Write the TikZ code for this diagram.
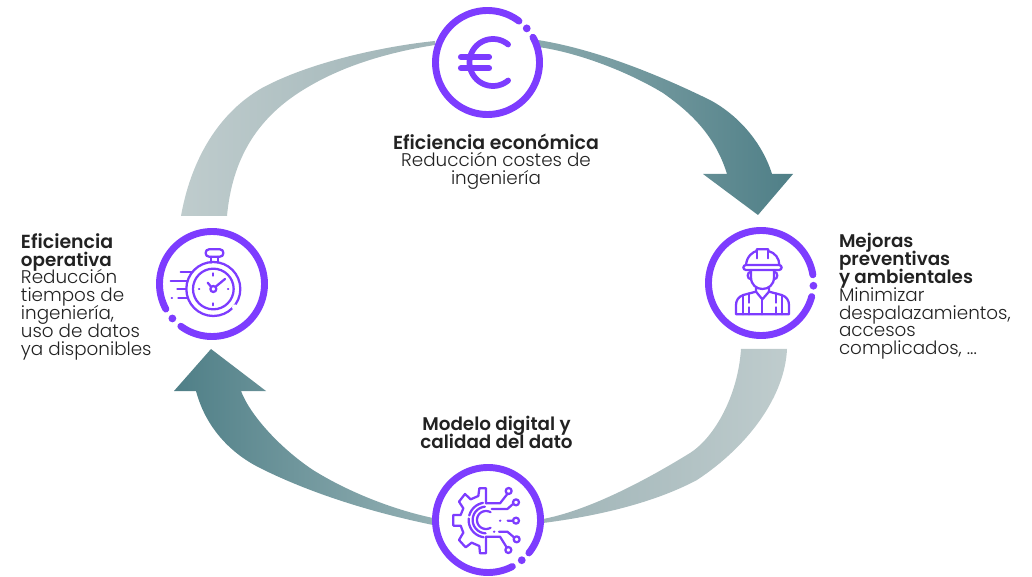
\documentclass[tikz,border=0pt]{standalone}
\usepackage{fontspec}
\setmainfont{Poppins}[UprightFont=* Light,BoldFont=* SemiBold]
\definecolor{purp}{HTML}{7D3CFF}
\definecolor{txt}{HTML}{222222}
\definecolor{tealD}{HTML}{4F7F87}
\definecolor{tealL}{HTML}{8AA9AD}
\definecolor{greyD}{HTML}{9FB4B7}
\definecolor{greyL}{HTML}{BFCCCD}
\newcommand{\ringarc}[5]{\draw[ringline] plot[domain=#4:#5,samples=120] ({#1+#3*cos(\x)},{#2-#3*sin(\x)});}
\newcommand{\ringdot}[4]{\fill[purp] ({#1+#3*cos(#4)},{#2-#3*sin(#4)}) circle[radius=3.9];}
\newcommand{\icarc}[5]{\draw[iconline] plot[domain=#4:#5,samples=30] ({#1+#3*cos(\x)},{#2-#3*sin(\x)});}
\newcommand{\lab}[1]{{\bfseries #1}}
\newcommand{\labE}[1]{{\fontsize{14.2}{13.35}\selectfont\bfseries #1}}
\tikzset{
  ringline/.style={purp,line width=5.2pt,line cap=round},
  iconline/.style={purp,line width=1.7pt,line cap=round,line join=round},
  label/.style={inner sep=0pt,outer sep=0pt,text=txt,font=\fontsize{13.75}{13.35}\selectfont,execute at begin node={\setlength{\lineskiplimit}{-20pt}}},
}
\begin{document}
\begin{tikzpicture}[x=0.75pt,y=-0.75pt]
\useasboundingbox (0,0) rectangle (1032,577);
% block arrows
\shade[left color=tealL,right color=tealD]
  (538,40) .. controls (600,50) and (665,78) .. (710,100) .. controls (738,115) and (762,142) .. (772,174)
  -- (793,174) -- (758,215) -- (703,174) -- (727,174)
  .. controls (715,135) and (690,112) .. (663,93) .. controls (625,70) and (575,52) .. (538,47) -- cycle;
\shade[left color=tealD,right color=tealL!92!white]
  (433,525) .. controls (370,512) and (310,493) .. (260,468) .. controls (228,452) and (205,425) .. (196,391)
  -- (174,391) -- (211,349) -- (266,391) -- (241,391)
  .. controls (250,415) and (280,448) .. (313,470) .. controls (350,493) and (395,510) .. (433,518) -- cycle;
\shade[left color=greyL,right color=greyD]
  (181,216) .. controls (190,165) and (215,115) .. (262,88) .. controls (310,62) and (385,46) .. (435,41)
  -- (435,45) .. controls (390,52) and (345,65) .. (308,87) .. controls (265,112) and (233,150) .. (227,216) -- cycle;
\shade[left color=greyD,right color=greyL]
  (787,349) .. controls (785,395) and (750,445) .. (697,480) .. controls (650,505) and (590,517) .. (543,523)
  -- (543,519) .. controls (580,512) and (630,490) .. (690,453) .. controls (715,437) and (738,395) .. (741,349) -- cycle;
% rings
\ringarc{487.5}{62.5}{52}{29}{-307.2}
\ringdot{487.5}{62.5}{52}{41}
\ringarc{761}{283}{52.5}{9}{345}
\ringdot{761}{283}{52.5}{-3}
\ringarc{212}{284}{52.5}{208.5}{-126.4}
\ringdot{212}{284}{52.5}{221}
\ringarc{488}{520}{52.5}{-38.8}{297.6}
\ringdot{488}{520}{52.5}{-50}
% euro
\draw[purp,line width=4.3pt,line cap=round] plot[domain=50:310,samples=50] ({493+23.5*cos(\x)},{62.5-23.5*sin(\x)});
\draw[purp,line width=4.6pt,line cap=round] (461,57) -- (489,57) (461,68.3) -- (489,68.3);
% worker
\begin{scope}[shift={(690,220)},scale=1/3]
\draw[iconline] (168,135) .. controls (170,108) and (190,95) .. (200,93) -- (200,88) -- (235,88) -- (235,93) .. controls (255,98) and (268,115) .. (268,135);
\draw[iconline] (200,93) -- (200,115) (235,93) -- (235,115);
\draw[iconline,rounded corners=2pt] (160,135) rectangle (275,150);
\draw[iconline] (183,150) -- (183,172) .. controls (183,195) and (200,207) .. (217,207) .. controls (235,207) and (252,195) .. (252,172) -- (252,150);
\draw[iconline] (183,155) .. controls (170,155) and (170,178) .. (183,178);
\draw[iconline] (252,155) .. controls (265,155) and (265,178) .. (252,178);
\draw[iconline] (198,204) -- (198,215) -- (217,238) -- (237,215) -- (237,204);
\draw[iconline] (198,215) -- (160,225) .. controls (145,230) and (138,242) .. (138,255) -- (138,283) -- (297,283) -- (297,255) .. controls (297,242) and (290,230) .. (275,225) -- (237,215);
\draw[iconline] (160,225) -- (160,283) (178,220) -- (178,248) (178,262) -- (178,283) (217,238) -- (217,283) (257,220) -- (257,248) (257,262) -- (257,283) (275,225) -- (275,283);
\end{scope}
% stopwatch
\begin{scope}[shift={(145,220)},scale=1/3]
\draw[iconline] (205,207) circle[radius=81];
\fill[white] (270,262) circle[radius=9];
\draw[iconline] (205,207) circle[radius=61];
\draw[iconline] (205,207) circle[radius=9];
\draw[iconline] (198,200) -- (188,188) (212,200) -- (240,177);
\draw[iconline] (205,160) -- (205,167) (205,250) -- (205,256) (162,207) -- (163,207) (249,207) -- (250,207);
\draw[iconline,rounded corners=2.5pt] (182,88) rectangle (235,110);
\draw[iconline] (197,110) -- (197,128) (218,110) -- (218,128);
\draw[iconline] (107,157) -- (140,157) (77,183) -- (127,183) (97,208) -- (124,208) (100,233) -- (127,233) (80,233) -- (81,233);
\end{scope}
% gear
\begin{scope}[shift={(420,460)},scale=1/3]
\draw[iconline] (198,130) -- (198,85) -- (178,85) -- (175,108) -- (152,118) -- (135,102) -- (117,125) -- (130,145) -- (122,165) -- (100,165) -- (100,197) -- (122,197) -- (130,218) -- (117,240) -- (137,262) -- (155,248) -- (178,258) -- (180,280) -- (198,280) -- (198,230);
\icarc{198}{180}{52}{100}{165}
\icarc{198}{180}{52}{175}{262}
\icarc{198}{180}{40}{95}{268}
\icarc{198}{180}{27}{60}{300}
\draw[iconline] (198,130) -- (240,130) -- (262,102) (215,147) -- (262,147) -- (279,132) (263,182) -- (278,182) (240,182) -- (241,182) (222,215) -- (223,215) (237,215) -- (262,215) -- (282,232) (198,230) -- (240,230) -- (260,262);
\draw[iconline] (266,93) circle[radius=9] (288,127) circle[radius=9] (288,182) circle[radius=9] (290,238) circle[radius=9] (265,270) circle[radius=9];
\end{scope}
% labels
\node[label,anchor=north,align=center] (econ) at (496,133.5) {\labE{Eficiencia económica}\\Reducción costes de\\ingeniería};
\node[label,anchor=north,align=center] (model) at (496.5,416.5) {\lab{Modelo digital y}\\\lab{calidad del dato}};
\node[label,anchor=north west,align=left] (oper) at (21,233.5) {\labE{Eficiencia}\\\lab{operativa}\\Reducción\\tiempos de\\ingeniería,\\uso de datos\\ya disponibles};
\node[label,anchor=north west,align=left] (prev) at (839,233.5) {\lab{Mejoras}\\\lab{preventivas}\\\lab{y ambientales}\\Minimizar\\despalazamientos,\\accesos\\complicados, ...};
\end{tikzpicture}
\end{document}
